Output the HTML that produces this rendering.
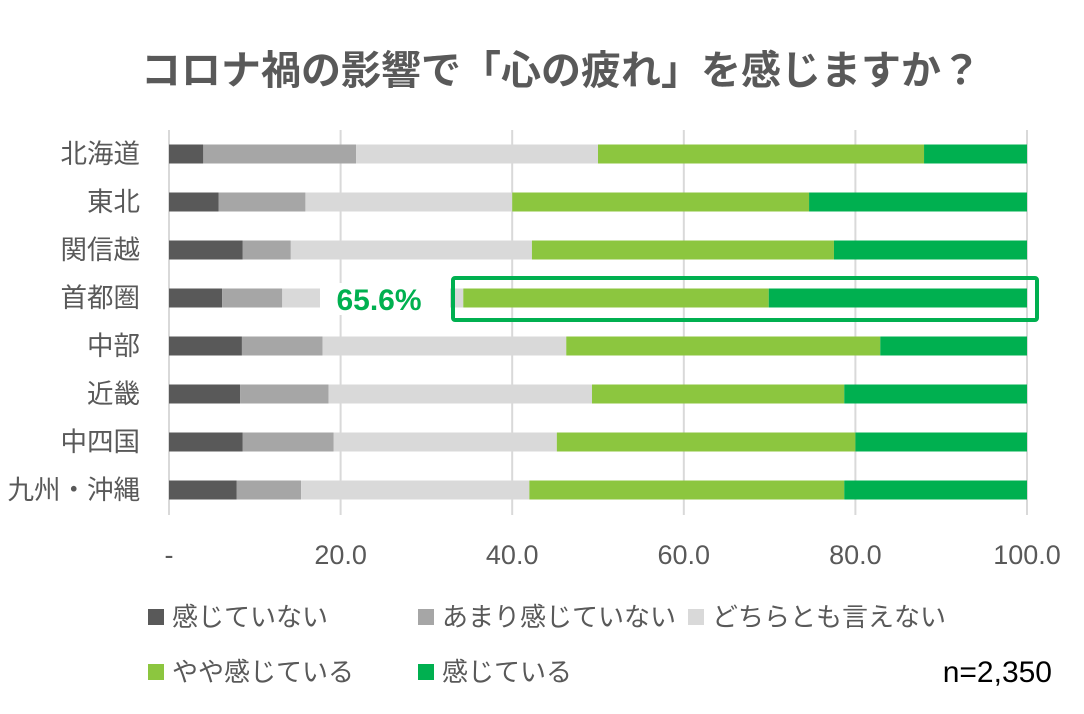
<!DOCTYPE html>
<html><head><meta charset="utf-8">
<style>
body{margin:0;background:#fff;}
svg text{font-family:"Liberation Sans","Noto Sans CJK JP",sans-serif;}
</style></head>
<body>
<svg id="chart" width="1084" height="709" viewBox="0 0 1084 709" xmlns="http://www.w3.org/2000/svg">
<rect width="1084" height="709" fill="#fff"/>
<text x="561" y="84" text-anchor="middle" font-size="40" font-weight="bold" fill="#595959">コロナ禍の影響で「心の疲れ」を感じますか？</text>
<g id="grid"></g>
<g id="bars"></g>
<g id="ylabels"></g>
<g id="xlabels"></g>
<rect x="453" y="278" width="584" height="42" fill="none" stroke="#00b050" stroke-width="4" rx="2"/>
<rect x="320" y="283" width="130" height="32" fill="#fff"/>
<text x="379" y="310" text-anchor="middle" font-size="30" font-weight="bold" fill="#00b050">65.6%</text>
<g id="legend"></g>
<text x="1052" y="682" text-anchor="end" font-size="30" fill="#000">n=2,350</text>
</svg>
<script>
const categories=["北海道","東北","関信越","首都圏","中部","近畿","中四国","九州・沖縄"];
const s1=[4.0,5.8,8.6,6.2,8.5,8.3,8.6,7.9];
const s2=[17.8,10.1,5.6,7.0,9.4,10.3,10.6,7.5];
const s3=[28.2,24.1,28.1,21.1,28.4,30.7,26.0,26.6];
const s4=[38.0,34.6,35.2,35.6,36.6,29.4,34.8,36.7];
const s5=[12.0,25.4,22.5,30.1,17.1,21.3,20.0,21.3];
const seriesNames=["感じていない","あまり感じていない","どちらとも言えない","やや感じている","感じている"];
const ticks=[0,20,40,60,80,100];
const tickLabels=["-","20.0","40.0","60.0","80.0","100.0"];
const colors=["#595959","#a6a6a6","#d9d9d9","#8cc63f","#00b050"];
const NS="http://www.w3.org/2000/svg";
const x=v=>169+v*(1027-169)/100;
const y=i=>154+i*48;
function mk(tag,attrs,parent){const e=document.createElementNS(NS,tag);for(const k in attrs)e.setAttribute(k,attrs[k]);parent.appendChild(e);return e;}
const grid=document.getElementById('grid');
ticks.forEach(t=>{
 const l=mk('line',{x1:x(t),x2:x(t),y1:130,y2:515,stroke:'#d9d9d9','stroke-width':2},grid);
 
 
});
const xl=document.getElementById('xlabels');
ticks.forEach((t,i)=>{
 const tx=mk('text',{x:x(t),y:564,'text-anchor':'middle','font-size':27,fill:'#595959'},xl);
 tx.textContent=tickLabels[i];
 
 
});
const series=[s1,s2,s3,s4,s5];
const bars=document.getElementById('bars');
const yl=document.getElementById('ylabels');
categories.forEach((c,i)=>{
 let acc=0;
 series.forEach((s,k)=>{
  const r=mk('rect',{x:x(acc),y:y(i)-9.5,width:x(acc+s[i])-x(acc),height:19,fill:colors[k]},bars);
  
  
  acc+=s[i];
 });
 const t=mk('text',{x:140,y:y(i)+9,'text-anchor':'end','font-size':26.5,fill:'#595959'},yl);
 t.textContent=c;
 
 
});
const lg=document.getElementById('legend');
const lpos=[[148,617],[418,617],[688,617],[148,672],[418,672]];
seriesNames.forEach((n,k)=>{
 const r=mk('rect',{x:lpos[k][0],y:lpos[k][1]-8,width:16,height:16,fill:colors[k]},lg);
 
 
 const t=mk('text',{x:lpos[k][0]+24,y:lpos[k][1]+9,'font-size':26,fill:'#595959'},lg);
 t.textContent=n;
 
 
});
</script>
</body></html>
